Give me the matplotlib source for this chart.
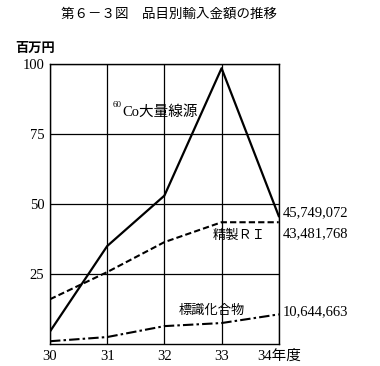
import matplotlib
matplotlib.use('Agg')
import matplotlib.pyplot as plt

plt.rcParams['font.family'] = ['Liberation Serif', 'Noto Sans CJK JP']

years = [30, 31, 32, 33, 34]
xticklabels = ['30', '31', '32', '33', '34年度']
yticks = [25, 50, 75, 100]

# 百万円
co60 = [4.5, 35, 53, 98.5, 45.7]
ri = [16, 25.7, 36.4, 43.5, 43.5]
labeled = [1, 2.5, 6.4, 7.5, 10.6]

end_labels = ['45,749,072', '43,481,768', '10,644,663']

fig = plt.figure(figsize=(3.8, 3.66), dpi=100)
ax = fig.add_axes([0.1316, 0.060, 0.602, 0.765])

ax.plot(years, co60, color='black', lw=1.6, ls='-')
ax.plot(years, ri, color='black', lw=1.5, ls=(0, (3, 1.5)))
ax.plot(years, labeled, color='black', lw=1.5, ls=(0, (5, 1.5, 1.2, 1.5)))

ax.set_xlim(30, 34)
ax.set_ylim(0, 100)
ax.set_xticks(years)
ax.set_xticklabels(xticklabels, fontsize=10.5)
ax.set_yticks(yticks)
ax.set_yticklabels([str(v) for v in yticks], fontsize=10.5)
ax.tick_params(length=0, pad=4)
ax.grid(True, color='black', lw=0.9)
for s in ax.spines.values():
    s.set_linewidth(1.0)

# series labels
ax.text(31.1, 85.5, '60', fontsize=6.5, ha='left', va='center')
ax.text(31.26, 83, 'Co大量線源', fontsize=10.5, ha='left', va='center')
ax.text(32.85, 38.5, '精製ＲＩ', fontsize=9.5, ha='left', va='center')
ax.text(32.25, 12, '標識化合物', fontsize=9.5, ha='left', va='center')

# end values
ax.text(34.07, co60[-1] + 1.2, end_labels[0], fontsize=10.5, ha='left', va='center')
ax.text(34.07, ri[-1] - 4, end_labels[1], fontsize=10.5, ha='left', va='center')
ax.text(34.07, labeled[-1] + 1, end_labels[2], fontsize=10.5, ha='left', va='center')

fig.text(0.445, 0.962, '第６－３図　品目別輸入金額の推移', fontsize=9.7, ha='center', va='center',
         family=['Noto Sans CJK JP'])
fig.text(0.04, 0.868, '百万円', fontsize=9.5, ha='left', va='center', weight='bold',
         family=['Noto Sans CJK JP'])

fig.savefig('out.png', dpi=100)
